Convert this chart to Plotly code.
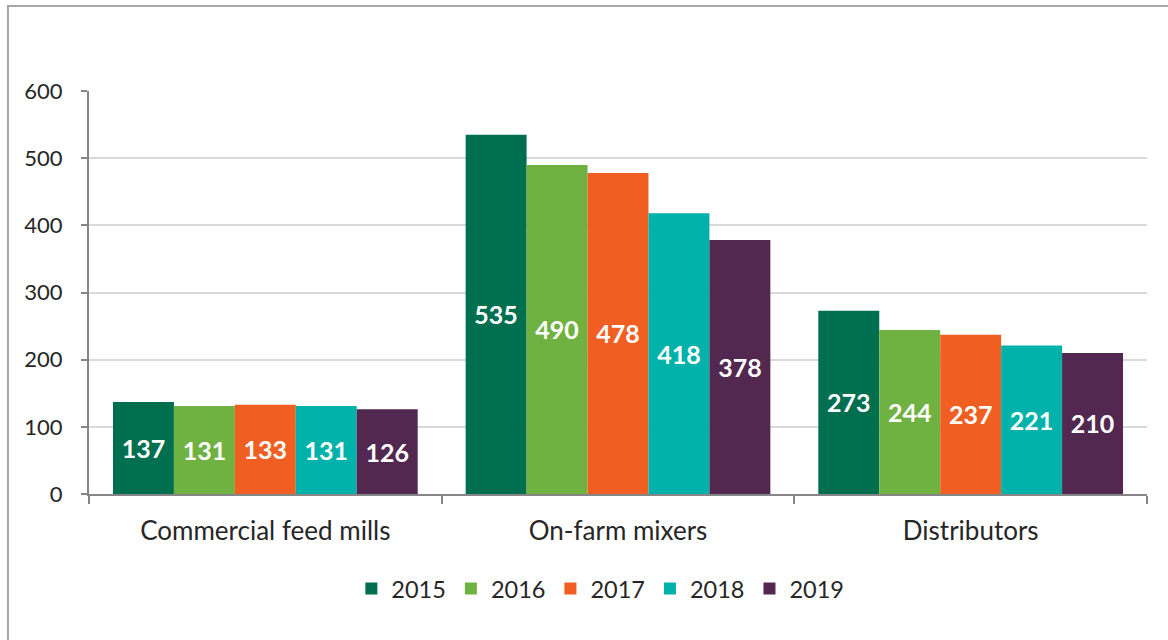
import plotly.graph_objects as go

categories = ["Commercial feed mills", "On-farm mixers", "Distributors"]
years = ["2015", "2016", "2017", "2018", "2019"]
values = {
    "2015": [137, 535, 273],
    "2016": [131, 490, 244],
    "2017": [133, 478, 237],
    "2018": [131, 418, 221],
    "2019": [126, 378, 210],
}
colors = ["#006F4F", "#70B241", "#F15E22", "#00B2A9", "#522750"]

FONT = "Lato, 'Open Sans', sans-serif"

fig = go.Figure()
for y, c in zip(years, colors):
    fig.add_trace(go.Bar(
        x=categories, y=values[y], name=y, marker=dict(color=c, line=dict(width=0)),
        text=[str(v) for v in values[y]], textposition="inside", insidetextanchor="middle",
        textangle=0, constraintext="none",
        textfont=dict(family=FONT, size=25, color="white", weight="bold"),
        cliponaxis=False,
    ))

fig.update_layout(
    width=1168, height=640,
    margin=dict(l=89, r=21, t=91, b=146, autoexpand=False),
    paper_bgcolor="white", plot_bgcolor="white",
    barmode="group", bargap=0.136, bargroupgap=0,
    font=dict(family=FONT, size=22, color="#262626"),
    uniformtext=dict(mode=False),
    showlegend=True,
    legend=dict(orientation="h", x=0.514, xanchor="center", xref="container",
                y=0.08, yanchor="middle", yref="container",
                font=dict(size=23.5, color="#262626"),
                tracegroupgap=0),
    shapes=[dict(type="rect", xref="paper", yref="paper",
                 x0=-0.0766, x1=1.2, y0=-0.6, y1=1.211,
                 line=dict(color="#A6A6A6", width=2), fillcolor="rgba(0,0,0,0)", layer="below")],
)
fig.update_xaxes(
    showline=True, linecolor="#868686", linewidth=2,
    ticks="outside", ticklen=8, tickcolor="#868686", tickwidth=2,
    tickson="boundaries", ticklabelstandoff=13, tickangle=0,
    tickfont=dict(size=26, color="#262626"),
    showgrid=False, automargin=False,
)
fig.update_yaxes(
    range=[0, 600], dtick=100, tick0=0,
    showline=True, linecolor="#868686", linewidth=2,
    ticks="outside", ticklen=6, tickcolor="#868686", tickwidth=2,
    ticklabelstandoff=14,
    tickfont=dict(size=22, color="#262626"),
    showgrid=True, gridcolor="#D9D9D9", gridwidth=2,
    zeroline=False, automargin=False,
)

fig.write_html("out.html", config={"displayModeBar": False},
               post_script="document.body.style.margin='0';")
